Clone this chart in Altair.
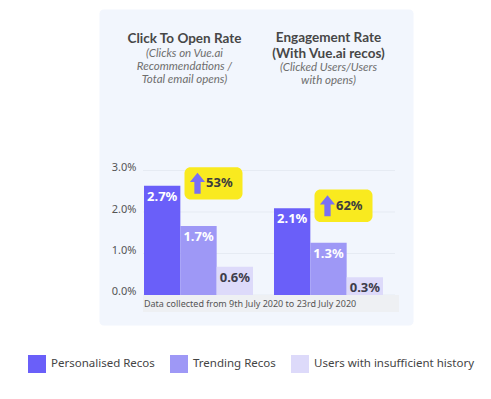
import altair as alt
import pandas as pd

groups = ["Click To Open Rate", "Engagement Rate"]
series = ["Personalised Recos", "Trending Recos", "Users with insufficient history"]
colors = ["#6a5ff9", "#9e98f6", "#dddafa"]
ctor_values = [2.63, 1.66, 0.68]
eng_values = [2.09, 1.26, 0.43]
ctor_labels = ["2.7%", "1.7%", "0.6%"]
eng_labels = ["2.1%", "1.3%", "0.3%"]
lift_labels = ["53%", "62%"]
tick_values = [0, 1, 2, 3]
footer_text = "Data collected from 9th July 2020 to 23rd July 2020"
title_main = ["Click To Open Rate", "Engagement Rate\n(With Vue.ai recos)"]
title_sub = ["(Clicks on Vue.ai\nRecommendations /\nTotal email opens)", "(Clicked Users/Users\nwith opens)"]

rows = []
for g, vals, labs in [(groups[0], ctor_values, ctor_labels), (groups[1], eng_values, eng_labels)]:
    for s, v, l in zip(series, vals, labs):
        rows.append({"group": g, "series": s, "value": v, "label": l})
bars_df = pd.DataFrame(rows)

badge_df = pd.DataFrame({
    "group": groups,
    "v": [ctor_values[0], eng_values[0]],
    "lift": lift_labels,
})

yscale = alt.Scale(domain=[-0.723, 6.892], nice=False, zero=False)
xscale = alt.Scale(domain=groups, paddingInner=0.1615, paddingOuter=0.2885, align=0.6)
X = alt.X("group:N", scale=xscale, axis=None, sort=groups)

FONT = "Noto Sans"
TFONT = "Lato"

yaxis = alt.Axis(
    values=tick_values, labelExpr="format(datum.value,'.1f')+'%'",
    domain=False, ticks=False, grid=False, offset=-44, labelPadding=7,
    labelBaseline="alphabetic", labelFontSize=11, labelColor="#555555",
    labelFont=FONT, title=None)

grid = alt.Chart(pd.DataFrame({"v": tick_values})).mark_rule(
    color="#e6ebf3", strokeWidth=1
).encode(
    y=alt.Y("v:Q", scale=yscale, axis=yaxis),
    x=alt.value(44), x2=alt.value(296),
)

footer_rect = alt.Chart(pd.DataFrame({"t": [footer_text]})).mark_rect(color="#eef0f3").encode(
    x=alt.value(44), x2=alt.value(300), y=alt.value(286), y2=alt.value(303)
)
footer = alt.Chart(pd.DataFrame({"t": [footer_text]})).mark_text(
    align="left", baseline="middle", fontSize=9, color="#555555", font=FONT
).encode(text="t:N", x=alt.value(45), y=alt.value(295))

bars = alt.Chart(bars_df).mark_bar().encode(
    x=X,
    xOffset=alt.XOffset("series:N", sort=series, scale=alt.Scale(paddingInner=0, paddingOuter=0)),
    y=alt.Y("value:Q", scale=yscale),
    color=alt.Color("series:N", sort=series, scale=alt.Scale(domain=series, range=colors),
                    legend=alt.Legend(orient="none", legendX=-71, legendY=346, direction="horizontal",
                                      title=None, symbolType="square", symbolSize=324,
                                      labelFontSize=11.5, labelColor="#444444", labelFont=FONT,
                                      columnPadding=15, labelOffset=5, symbolStrokeWidth=0,
                                      symbolOpacity=1, labelLimit=300)),
)

bar_labels = alt.Chart(bars_df).mark_text(
    baseline="middle", dy=11, fontSize=13, fontWeight="bold", font=FONT
).encode(
    x=X,
    xOffset=alt.XOffset("series:N", sort=series),
    y=alt.Y("value:Q", scale=yscale),
    text="label:N",
    color=alt.condition(alt.datum.series == series[2], alt.value("#3d3d4a"), alt.value("white")),
)

badge_base = alt.Chart(badge_df).transform_calculate(
    top="datum.v + 0.45", bot="datum.v - 0.33", mid="datum.v + 0.06"
)
badge_box = badge_base.mark_bar(width=58, xOffset=15, cornerRadius=6, color="#f9ea1f").encode(
    x=X, y=alt.Y("top:Q", scale=yscale), y2="bot:Q"
)
arrow_path = "M0,-1 L0.72,-0.12 L0.3,-0.12 L0.3,1 L-0.3,1 L-0.3,-0.12 L-0.72,-0.12 Z"
badge_arrow = badge_base.mark_point(
    shape=arrow_path, size=441, filled=True, color="#7a6ff5", opacity=1, xOffset=-1
).encode(x=X, y=alt.Y("mid:Q", scale=yscale))
badge_text = badge_base.mark_text(
    align="left", baseline="middle", dx=7.5, fontSize=13, fontWeight="bold", color="#3d3d3d", font=FONT
).encode(x=X, y=alt.Y("mid:Q", scale=yscale), text="lift:N")

title_layers = []
main_y = [29.5, 29]
main_lh = [15.5, 15.5]
sub_y = [44.5, 59]
sub_lh = [13.3, 12.5]
dxs = [-14, 0]
for i in range(2):
    d = pd.DataFrame({"group": [groups[i]], "m": [title_main[i]], "s": [title_sub[i]]})
    title_layers.append(alt.Chart(d).mark_text(
        baseline="middle", align="center", dx=dxs[i], fontSize=13.5, fontWeight="bold",
        color="#474747", font=TFONT, lineBreak="\n", lineHeight=main_lh[i]
    ).encode(x=X, y=alt.value(main_y[i]), text="m:N"))
    title_layers.append(alt.Chart(d).mark_text(
        baseline="middle", align="center", dx=dxs[i], fontSize=11.5, fontStyle="italic",
        color="#6e6e6e", font=TFONT, lineBreak="\n", lineHeight=sub_lh[i]
    ).encode(x=X, y=alt.value(sub_y[i]), text="s:N"))

chart = alt.layer(
    grid, footer_rect, footer, bars, bar_labels, badge_box, badge_arrow, badge_text, *title_layers
).properties(
    width=314, height=316,
    autosize=alt.AutoSizeParams(type="none"),
    padding={"left": 91, "top": 1, "right": 70, "bottom": 60},
    background="white",
).configure_view(
    fill="#f2f6fd", stroke="transparent", cornerRadius=4
)

chart.save("out.html", embed_options={"renderer": "svg", "actions": False})
